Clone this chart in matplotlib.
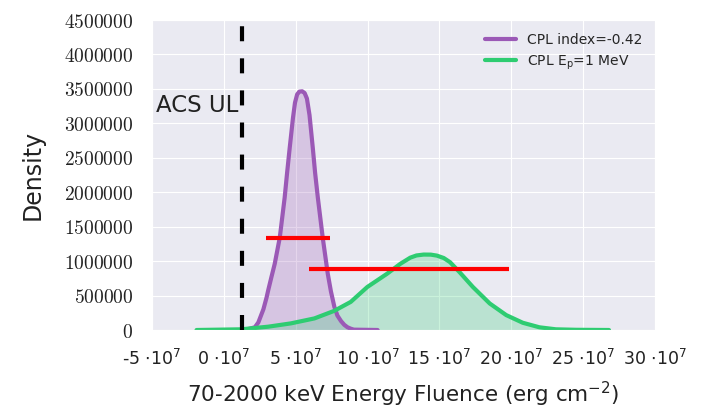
import numpy as np
import matplotlib
matplotlib.use('Agg')
import matplotlib.pyplot as plt
import seaborn as sns

# fluence in units of 1e-7 erg cm^-2, density in 1/(erg cm^-2)
index_x = [1.47, 2.16, 2.4, 2.75, 2.97, 3.09, 3.3, 3.54, 3.89, 4.23, 4.4, 4.58, 4.81, 4.95, 5.1,
           5.25, 5.45, 5.62, 5.78, 5.96, 6.19, 6.35, 6.54, 6.88, 7.23, 7.45, 7.69, 7.9, 8.15,
           8.38, 8.6, 8.84, 9.05, 10.7]
index_y = [0.0, 40e3, 110e3, 300e3, 470e3, 580e3, 760e3, 961e3, 1.34e6, 1.92e6, 2.28e6, 2.64e6,
           3.08e6, 3.30e6, 3.42e6, 3.46e6, 3.465e6, 3.44e6, 3.36e6, 3.12e6, 2.64e6, 2.28e6, 1.92e6,
           1.34e6, 817e3, 560e3, 336e3, 210e3, 130e3, 75e3, 40e3, 18e3, 5e3, 0.0]

ep_x = [-1.9, 1.21, 3.08, 4.66, 6.3, 7.68, 8.83, 9.98, 11.36, 12.28, 12.97, 13.4, 13.9, 14.4,
        14.82, 15.3, 15.74, 16.4, 17.33, 18.5, 19.65, 20.8, 21.96, 23.1, 24.5, 26.8]
ep_y = [0.0, 10e3, 48e3, 96e3, 168e3, 278e3, 408e3, 624e3, 817e3, 961e3, 1.05e6, 1.082e6, 1.095e6,
        1.094e6, 1.08e6, 1.045e6, 984e3, 840e3, 624e3, 385e3, 216e3, 105e3, 39e3, 10e3, 3e3, 0.0]

# credible intervals (x range, height drawn)
index_ci = [2.93, 7.38]
index_ci_y = 1.34e6
ep_ci = [5.9, 19.85]
ep_ci_y = 0.88e6

acs_ul = 1.28

labels = ['CPL index=-0.42', r'CPL E$_{\rm p}$=1 MeV']
xticks = [-5, 0, 5, 10, 15, 20, 25, 30]
yticks = [0, 500000, 1000000, 1500000, 2000000, 2500000, 3000000, 3500000, 4000000, 4500000]

sns.set_style('darkgrid')
purple = '#9b59b6'
green = '#2ecc71'

fig = plt.figure(figsize=(7.12, 4.11), dpi=100)
ax = fig.add_axes([152/712, 1 - 330/411, (655-152)/712, (330-20)/411])

ax.fill_between(index_x, index_y, color=purple, alpha=0.25, lw=0)
ax.plot(index_x, index_y, color=purple, lw=3, label=labels[0], solid_joinstyle='round')
ax.fill_between(ep_x, ep_y, color=green, alpha=0.25, lw=0)
ax.plot(ep_x, ep_y, color=green, lw=3, label=labels[1], solid_joinstyle='round')

ax.hlines(index_ci_y, index_ci[0], index_ci[1], color='red', lw=3, zorder=5)
ax.hlines(ep_ci_y, ep_ci[0], ep_ci[1], color='red', lw=3, zorder=5)

ln = ax.axvline(acs_ul, color='black', lw=3, zorder=6)
ln.set_dashes((3.6, 4.1))
ax.text(acs_ul - 0.3, 3.26e6, 'ACS UL', ha='right', va='center', fontsize=16.5, color='#222222')

ax.set_xlim(-4.85, 29.8)
ax.set_ylim(0, 4.5e6)
ax.set_xticks(xticks)
ax.set_xticklabels(['%d $\\cdot 10^{7}$' % v for v in xticks])
ax.set_yticks(yticks)
ax.set_yticklabels(['$%d$' % v for v in yticks])
for t in ax.get_yticklabels():
    t.set_math_fontfamily('cm')
    t.set_fontsize(14)
for t in ax.get_xticklabels():
    t.set_fontsize(12.5)
ax.tick_params(axis='x', pad=10, colors='#222222')
ax.tick_params(axis='y', pad=10, colors='#222222')

ax.set_xlabel('70-2000 keV Energy Fluence (erg cm$^{-2}$)', fontsize=15.5, color='#222222', labelpad=8)
ax.set_ylabel('Density', fontsize=17, color='#222222', labelpad=14)

leg = ax.legend(loc='upper right', frameon=False, fontsize=10, handlelength=2.2)
for h in leg.get_lines():
    h.set_linewidth(3)

fig.savefig('out.png', dpi=100)
